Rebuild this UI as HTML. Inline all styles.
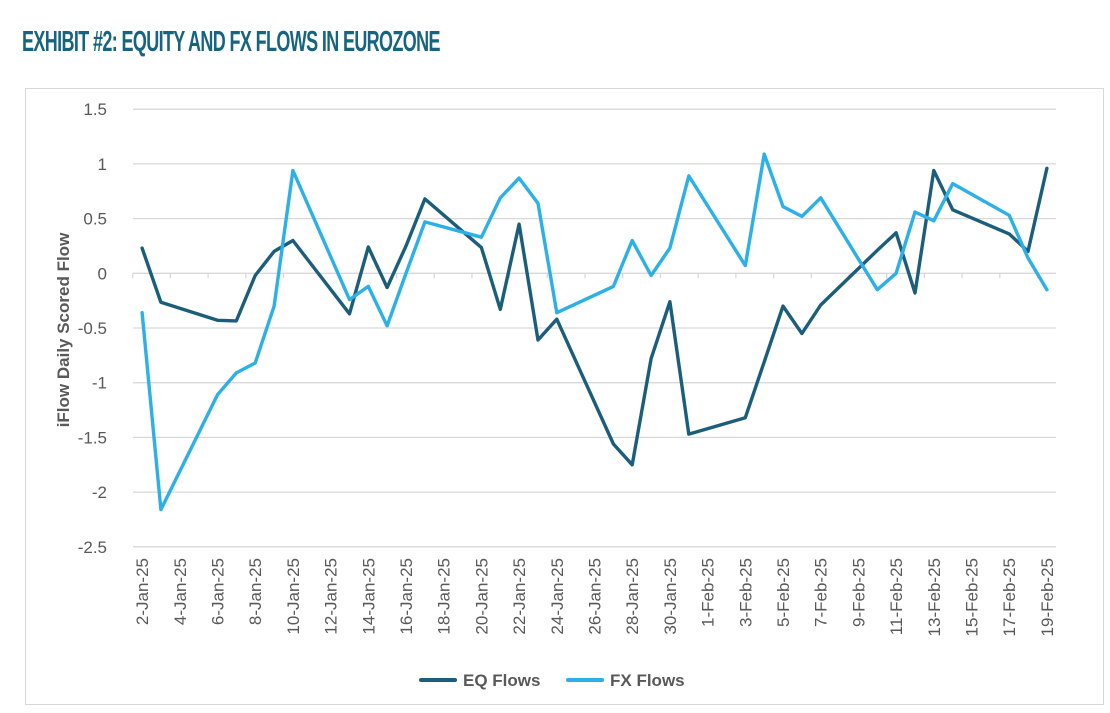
<!DOCTYPE html>
<html><head><meta charset="utf-8"><style>
body{margin:0;background:#fff;width:1110px;height:713px;overflow:hidden;font-family:"Liberation Sans",Arial,sans-serif}
#title{position:absolute;left:22px;top:26px;font-size:29px;font-weight:bold;color:#17647f;letter-spacing:-1px;transform:scaleX(0.62);transform-origin:0 0;white-space:nowrap}
#frame{position:absolute;left:25px;top:88px;width:1079px;height:617px;border:1px solid #d9d9d9;box-sizing:border-box}
svg{position:absolute;left:0;top:0}
</style></head><body>
<div id="title">EXHIBIT #2: EQUITY AND FX FLOWS IN EUROZONE</div>
<div id="frame"></div>
<svg id="chart" width="1110" height="713"></svg>
<script>
const labels = ["2-Jan-25","3-Jan-25","4-Jan-25","5-Jan-25","6-Jan-25","7-Jan-25","8-Jan-25","9-Jan-25","10-Jan-25","11-Jan-25","12-Jan-25","13-Jan-25","14-Jan-25","15-Jan-25","16-Jan-25","17-Jan-25","18-Jan-25","19-Jan-25","20-Jan-25","21-Jan-25","22-Jan-25","23-Jan-25","24-Jan-25","25-Jan-25","26-Jan-25","27-Jan-25","28-Jan-25","29-Jan-25","30-Jan-25","31-Jan-25","1-Feb-25","2-Feb-25","3-Feb-25","4-Feb-25","5-Feb-25","6-Feb-25","7-Feb-25","8-Feb-25","9-Feb-25","10-Feb-25","11-Feb-25","12-Feb-25","13-Feb-25","14-Feb-25","15-Feb-25","16-Feb-25","17-Feb-25","18-Feb-25","19-Feb-25"];
const eqFlows = [0.23,-0.265,null,null,-0.43,-0.435,-0.02,0.2,0.30,null,null,-0.37,0.24,-0.13,0.25,0.68,null,null,0.235,-0.33,0.45,-0.61,-0.42,null,null,-1.56,-1.75,-0.78,-0.26,-1.47,null,null,-1.32,-0.81,-0.30,-0.55,-0.29,null,null,0.21,0.37,-0.18,0.94,0.58,null,null,0.36,0.20,0.96];
const fxFlows = [-0.36,-2.16,null,null,-1.11,-0.91,-0.82,-0.30,0.94,null,null,-0.24,-0.12,-0.48,0.0,0.47,null,null,0.33,0.69,0.87,0.64,-0.36,null,null,-0.12,0.30,-0.02,0.23,0.89,null,null,0.07,1.09,0.61,0.52,0.69,null,null,-0.15,0.0,0.56,0.48,0.82,null,null,0.53,0.14,-0.15];
const yTicks = [1.5,1,0.5,0,-0.5,-1,-1.5,-2,-2.5];
const svg = document.getElementById('chart');
const NS = 'http://www.w3.org/2000/svg';
const x0 = 142.1, dx = 18.85, y0 = 273.3, ky = 109.4;
const xs = i => x0 + dx * i;
const ys = v => y0 - v * ky;
function mk(tag, attrs, parent){const e=document.createElementNS(NS,tag);for(const k in attrs)e.setAttribute(k,attrs[k]);(parent||svg).appendChild(e);return e;}
yTicks.forEach(t=>{
  const g = mk('line',{x1:133,x2:1056,y1:ys(t),y2:ys(t),stroke:'#d9d9d9','stroke-width':1.3});
  
  
  const tx = mk('text',{x:107,y:ys(t)+6,'text-anchor':'end','font-size':17,fill:'#595959'});
  tx.textContent = String(t);
  
  
});
labels.forEach((l,i)=>{
  if(i%2===0){
    const tk = mk('line',{x1:xs(i)-dx/2,x2:xs(i)-dx/2,y1:y0,y2:y0+5,stroke:'#d9d9d9','stroke-width':1.3});
    
    
    const tx = mk('text',{x:0,y:0,'text-anchor':'end','font-size':17,fill:'#595959',transform:`translate(${xs(i)+6},558) rotate(-90)`});
    tx.textContent = l;
    
    
  }
});
const yt = mk('text',{x:0,y:0,'text-anchor':'middle','font-size':17,'font-weight':'bold',fill:'#595959',transform:'translate(69,330) rotate(-90)'});
yt.textContent='iFlow Daily Scored Flow';


function series(vals,color,name){
  const pts=[];vals.forEach((v,i)=>{if(v!==null)pts.push(xs(i).toFixed(1)+','+ys(v).toFixed(1));});
  const p = mk('polyline',{points:pts.join(' '),fill:'none',stroke:color,'stroke-width':3.4,'stroke-linejoin':'round','stroke-linecap':'round'});
  
  
}
series(eqFlows,'#1b5e7c','eq-flows-line');
series(fxFlows,'#2bb0e8','fx-flows-line');
[['#1b5e7c','EQ Flows',421,'legend-eq-flows'],['#2bb0e8','FX Flows',568,'legend-fx-flows']].forEach(([c,t,x,n])=>{
  const g = mk('g',{});
  
  
  mk('line',{x1:x,x2:x+34,y1:680,y2:680,stroke:c,'stroke-width':4,'stroke-linecap':'round'},g);
  const tx = mk('text',{x:x+42,y:686,'font-size':17,'font-weight':'bold',fill:'#595959'},g);
  tx.textContent=t;
});
</script>
</body></html>
